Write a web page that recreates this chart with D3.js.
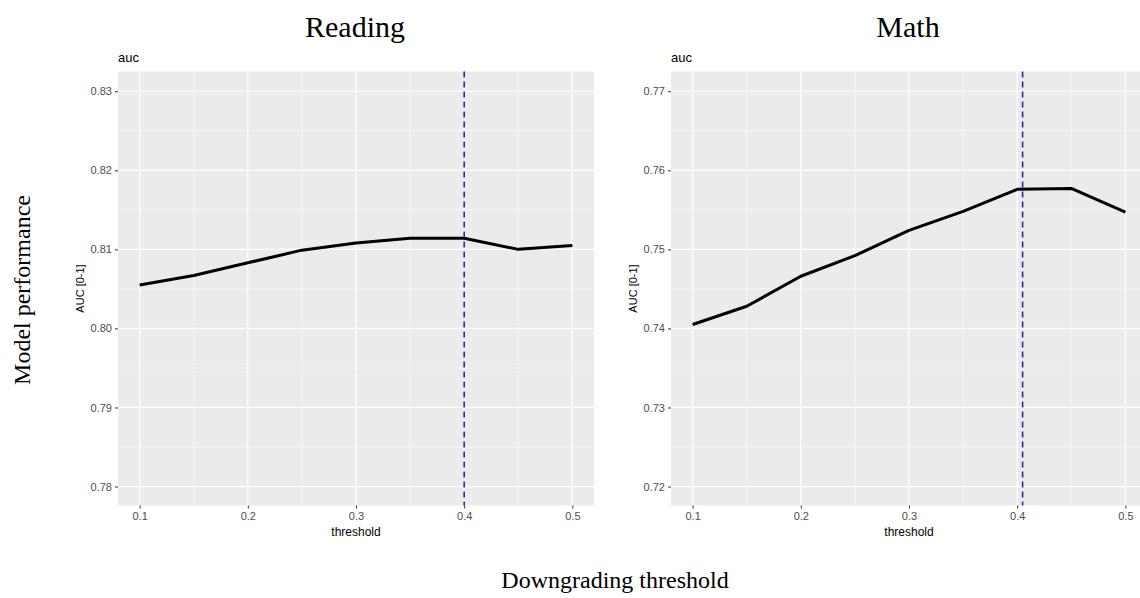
<!DOCTYPE html>
<html>
<head>
<meta charset="utf-8">
<script src="https://cdn.jsdelivr.net/npm/d3@7"></script>
<style>
  html, body { margin: 0; padding: 0; background: #ffffff; }
  svg { display: block; }
</style>
</head>
<body>
<svg id="chart" width="1140" height="598"></svg>
<script>
// ---------------- data ----------------
const thresholds = [0.1, 0.15, 0.2, 0.25, 0.3, 0.35, 0.4, 0.45, 0.5];
const readingAUC = [0.8055, 0.8067, 0.8083, 0.8099, 0.8108, 0.8114, 0.8114, 0.8100, 0.8105];
const mathAUC    = [0.7405, 0.7428, 0.7466, 0.7492, 0.7524, 0.7548, 0.7576, 0.7577, 0.7547];
const readingCutoff = 0.4;
const mathCutoff = 0.405;
const xTicks = [0.1, 0.2, 0.3, 0.4, 0.5];
const xMinor = [0.15, 0.25, 0.35, 0.45];
const readingYTicks = [0.78, 0.79, 0.80, 0.81, 0.82, 0.83];
const readingYMinor = [0.785, 0.795, 0.805, 0.815, 0.825];
const mathYTicks = [0.72, 0.73, 0.74, 0.75, 0.76, 0.77];
const mathYMinor = [0.725, 0.735, 0.745, 0.755, 0.765];
const xDomain = [0.08, 0.52];
const readingYDomain = [0.7776, 0.8325];
const mathYDomain = [0.7176, 0.7725];
const panelTitles = ["Reading", "Math"];

// ---------------- drawing ----------------
const svg = d3.select("#chart");
const sans = "Liberation Sans, Arial, sans-serif";
const serif = "Liberation Serif, Times New Roman, serif";

function panel(opts) {
  const { left, right, top, bottom, values, yDomain, yTicks, yMinor, cutoff, title, titleX } = opts;
  const x = d3.scaleLinear().domain(xDomain).range([left, right]);
  const y = d3.scaleLinear().domain(yDomain).range([bottom, top]);
  const g = svg.append("g");

  // big serif title
  svg.append("text").attr("x", titleX).attr("y", 37)
    .attr("text-anchor", "middle").attr("font-family", serif)
    .attr("font-size", 30).attr("fill", "#000").text(title);

  // background
  g.append("rect").attr("x", left).attr("y", top)
    .attr("width", right - left).attr("height", bottom - top).attr("fill", "#EBEBEB");

  // minor grid
  g.selectAll(".vmin").data(xMinor).enter().append("line")
    .attr("x1", d => x(d)).attr("x2", d => x(d)).attr("y1", top).attr("y2", bottom)
    .attr("stroke", "#fff").attr("stroke-width", 0.6);
  g.selectAll(".hmin").data(yMinor).enter().append("line")
    .attr("y1", d => y(d)).attr("y2", d => y(d)).attr("x1", left).attr("x2", right)
    .attr("stroke", "#fff").attr("stroke-width", 0.6);
  // major grid
  g.selectAll(".vmaj").data(xTicks).enter().append("line")
    .attr("x1", d => x(d)).attr("x2", d => x(d)).attr("y1", top).attr("y2", bottom)
    .attr("stroke", "#fff").attr("stroke-width", 1.2);
  g.selectAll(".hmaj").data(yTicks).enter().append("line")
    .attr("y1", d => y(d)).attr("y2", d => y(d)).attr("x1", left).attr("x2", right)
    .attr("stroke", "#fff").attr("stroke-width", 1.2);

  // data line
  const line = d3.line().x((d, i) => x(thresholds[i])).y(d => y(d));
  g.append("path").datum(values).attr("d", line)
    .attr("fill", "none").attr("stroke", "#000").attr("stroke-width", 3)
    .attr("stroke-linejoin", "round").attr("stroke-linecap", "butt");

  // cutoff dashed line
  g.append("line").attr("x1", x(cutoff)).attr("x2", x(cutoff))
    .attr("y1", top).attr("y2", bottom)
    .attr("stroke", "#2a2aa0").attr("stroke-width", 1.6)
    .attr("stroke-dasharray", "6,4");

  // axes
  const xAxis = d3.axisBottom(x).tickValues(xTicks).tickSize(3).tickPadding(4)
    .tickFormat(d3.format(".1f"));
  const gx = g.append("g").attr("transform", `translate(0,${bottom})`).call(xAxis);
  gx.select(".domain").remove();
  gx.selectAll("line").attr("stroke", "#333");
  gx.selectAll("text").attr("font-family", sans).attr("font-size", 11).attr("fill", "#4d4d4d");

  const yAxis = d3.axisLeft(y).tickValues(yTicks).tickSize(3).tickPadding(3)
    .tickFormat(d3.format(".2f"));
  const gy = g.append("g").attr("transform", `translate(${left},0)`).call(yAxis);
  gy.select(".domain").remove();
  gy.selectAll("line").attr("stroke", "#333");
  gy.selectAll("text").attr("font-family", sans).attr("font-size", 11).attr("fill", "#4d4d4d");

  // plot title "auc"
  g.append("text").attr("x", left).attr("y", 62)
    .attr("font-family", sans).attr("font-size", 13).attr("fill", "#000").text("auc");

  // axis titles
  g.append("text").attr("x", x(0.3)).attr("y", 536)
    .attr("text-anchor", "middle").attr("font-family", sans).attr("font-size", 12)
    .attr("fill", "#000").text("threshold");
  g.append("text")
    .attr("transform", `translate(${left - 34},${(top + bottom) / 2}) rotate(-90)`)
    .attr("text-anchor", "middle").attr("font-family", sans).attr("font-size", 11)
    .attr("fill", "#000").text("AUC [0-1]");
}

panel({ left: 118, right: 594, top: 71.5, bottom: 505.5, values: readingAUC,
  yDomain: readingYDomain, yTicks: readingYTicks, yMinor: readingYMinor,
  cutoff: readingCutoff, title: panelTitles[0], titleX: 355 });
panel({ left: 671, right: 1147, top: 71.5, bottom: 505.5, values: mathAUC,
  yDomain: mathYDomain, yTicks: mathYTicks, yMinor: mathYMinor,
  cutoff: mathCutoff, title: panelTitles[1], titleX: 908 });

// shared outer labels
svg.append("text")
  .attr("transform", "translate(30,290) rotate(-90)")
  .attr("text-anchor", "middle").attr("font-family", serif).attr("font-size", 24)
  .attr("fill", "#000").text("Model performance");
svg.append("text").attr("x", 615).attr("y", 588)
  .attr("text-anchor", "middle").attr("font-family", serif).attr("font-size", 24)
  .attr("fill", "#000").text("Downgrading threshold");
</script>
</body>
</html>
